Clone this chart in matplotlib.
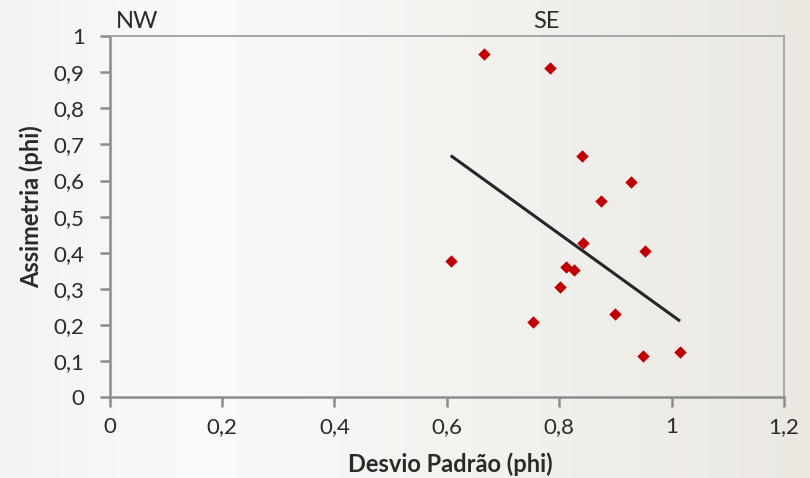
import matplotlib.pyplot as plt
import numpy as np
from matplotlib.colors import LinearSegmentedColormap

# desvio padrao x assimetria (amostras)
desvio = [0.667, 0.784, 0.841, 0.928, 0.875, 0.842, 0.952, 0.607,
          0.812, 0.827, 0.801, 0.900, 0.753, 0.949, 1.015]
assimetria = [0.950, 0.911, 0.669, 0.595, 0.543, 0.426, 0.405, 0.376,
              0.361, 0.352, 0.304, 0.231, 0.208, 0.114, 0.126]

# linha de tendencia (extremos)
tend_x = [0.607, 1.015]
tend_y = [0.669, 0.211]

x_ticks = [0, 0.2, 0.4, 0.6, 0.8, 1, 1.2]
y_ticks = [0, 0.1, 0.2, 0.3, 0.4, 0.5, 0.6, 0.7, 0.8, 0.9, 1]

plt.rcParams['font.family'] = ['Lato', 'DejaVu Sans']
cor_texto = '#2b2a26'

W, H = 810, 478
fig = plt.figure(figsize=(W / 100, H / 100), dpi=100)

# fundo em degrade horizontal
fundo = fig.add_axes([0, 0, 1, 1], zorder=-1)
cmap = LinearSegmentedColormap.from_list(
    'fundo', [(0, '#f4f3f1'), (0.25, '#fafaf9'), (1, '#ebe8e2')])
fundo.imshow(np.linspace(0, 1, 256).reshape(1, -1), aspect='auto', cmap=cmap,
             extent=[0, 1, 0, 1])
fundo.axis('off')

ax = fig.add_axes([0.1354, 0.1688, 0.8325, 0.7559])
ax.patch.set_alpha(0)

ax.plot(tend_x, tend_y, color='#262626', lw=2.2, solid_capstyle='butt', zorder=2)
ax.scatter(desvio, assimetria, marker='D', s=40, color='#c00000', zorder=3, linewidths=0)

ax.set_xlim(0, 1.2)
ax.set_ylim(0, 1)
ax.set_xticks(x_ticks)
ax.set_yticks(y_ticks)
ax.set_xticklabels([f'{v:g}'.replace('.', ',') for v in x_ticks])
ax.set_yticklabels([f'{v:g}'.replace('.', ',') for v in y_ticks])

for lado in ['left', 'bottom']:
    ax.spines[lado].set_color('#8c8c8c')
    ax.spines[lado].set_linewidth(1.8)
for lado in ['top', 'right']:
    ax.spines[lado].set_color('#a6a6a6')
    ax.spines[lado].set_linewidth(1.4)

ax.tick_params(direction='out', length=7, width=1.8, color='#8c8c8c',
               labelsize=16, labelcolor=cor_texto)
ax.tick_params(axis='y', pad=11)
ax.tick_params(axis='x', pad=7)

# titulos dos eixos
fig.text(450 / W, 1 - 472 / H, 'Desvio Padrão (phi)', ha='center', va='baseline',
         fontsize=17, fontweight='bold', color=cor_texto)
fig.text(31 / W, 1 - 207 / H, 'Assimetria (phi)', ha='center', va='center', rotation=90,
         fontsize=17, fontweight='bold', color=cor_texto)

# regioes
fig.text(137 / W, 1 - 28 / H, 'NW', ha='center', va='baseline', fontsize=17, color=cor_texto)
fig.text(546 / W, 1 - 28 / H, 'SE', ha='center', va='baseline', fontsize=17, color=cor_texto)

fig.savefig('out.png', dpi=100)
